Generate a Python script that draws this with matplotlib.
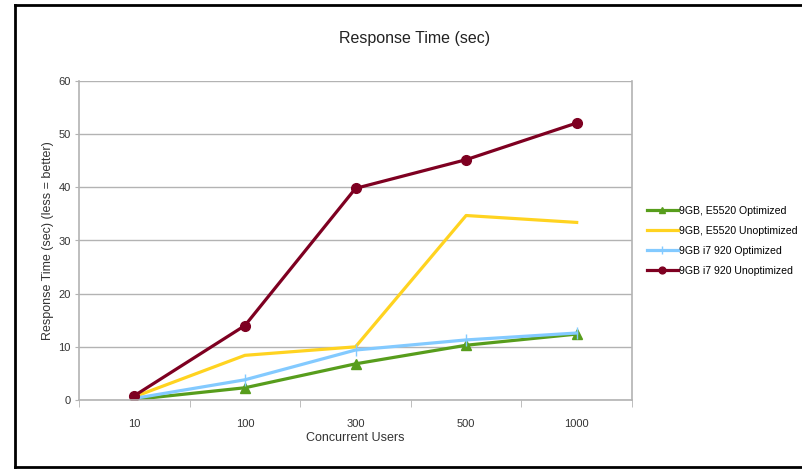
import matplotlib
matplotlib.use('Agg')
import matplotlib.pyplot as plt
from matplotlib.lines import Line2D

plt.rcParams['font.family'] = ['Liberation Sans', 'DejaVu Sans']

# Data
users = ['10', '100', '300', '500', '1000']
e5520_opt = [0.1, 2.3, 6.8, 10.3, 12.4]
e5520_unopt = [0.6, 8.4, 10.0, 34.7, 33.4]
i7_opt = [0.3, 3.8, 9.4, 11.3, 12.6]
i7_unopt = [0.8, 14.0, 39.8, 45.2, 52.1]

W, H = 802, 469
fig = plt.figure(figsize=(W / 100, H / 100), dpi=100)
ax = fig.add_axes([79 / W, (H - 400) / H, (632 - 79) / W, (400 - 81) / H])

x = list(range(len(users)))
ax.plot(x, e5520_opt, color='#579d1c', lw=2.3, marker='^', ms=7, label='9GB, E5520 Optimized')
ax.plot(x, e5520_unopt, color='#ffd320', lw=2.3, label='9GB, E5520 Unoptimized')
ax.plot(x, i7_opt, color='#83caff', lw=2.3, marker='|', ms=9, mew=1, label='9GB i7 920 Optimized')
ax.plot(x, i7_unopt, color='#7e0021', lw=2.3, marker='o', ms=7, label='9GB i7 920 Unoptimized')

ax.set_xlim(-0.5, 4.5)
ax.set_ylim(0, 60)
ax.set_yticks(range(0, 61, 10))
ax.set_xticks(x)
ax.set_xticklabels(users)
ax.set_xticks([i - 0.5 for i in range(6)], minor=True)
ax.tick_params(axis='x', which='major', length=0, pad=14, labelsize=8, colors='#333333')
ax.tick_params(axis='x', which='minor', length=5, color='#b3b3b3', direction='out')
ax.tick_params(axis='y', length=3, color='#b3b3b3', labelsize=8, colors='#333333', pad=3)
ax.grid(axis='y', color='#b3b3b3', lw=1)
ax.set_axisbelow(True)
for side in ['left', 'bottom', 'right']:
    ax.spines[side].set_color('#b3b3b3')
    ax.spines[side].set_linewidth(1.2)
ax.spines['top'].set_visible(False)

ax.set_xlabel('Concurrent Users', fontsize=9, color='#333333', labelpad=2)
ax.set_ylabel('Response Time (sec) (less = better)', fontsize=9, color='#333333', labelpad=3)
fig.text(415 / W, 1 - 38 / H, 'Response Time (sec)', fontsize=11.5, ha='center', va='center', color='#222222')

fig.legend(loc='center left', bbox_to_anchor=(637 / W, 1 - 241 / H), frameon=False,
           fontsize=7.6, handlelength=3.0, labelspacing=0.95, handletextpad=0.1, markerscale=0.7)

# outer frame
fig.add_artist(Line2D([15 / W, 15 / W], [1 - 5 / H, 1 - 467 / H], color='black', lw=2))
fig.add_artist(Line2D([15 / W, 1.0], [1 - 5 / H, 1 - 5 / H], color='black', lw=2))
fig.add_artist(Line2D([15 / W, 1.0], [1 - 467 / H, 1 - 467 / H], color='black', lw=2))

fig.savefig('out.png', dpi=100)
